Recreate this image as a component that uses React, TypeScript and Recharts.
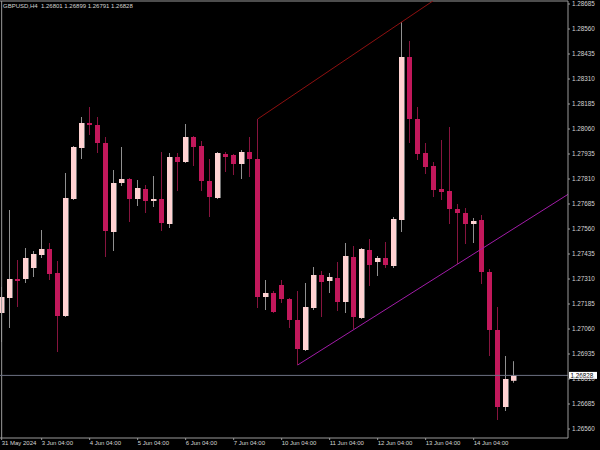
import React from 'react';
import { ComposedChart, Bar, XAxis, YAxis, ReferenceLine } from 'recharts';

// ---- DATA (GBPUSD H4, 31 May 2024 08:00 .. 14 Jun 2024 20:00) ----
const opens = [
  1.27140, 1.27215, 1.27310, 1.27310, 1.27365, 1.27430, 1.27460, 1.27340, 1.27125, 1.27710,
  1.27965, 1.28090, 1.28080, 1.27990, 1.27545, 1.27790, 1.27810, 1.27710, 1.27760, 1.27700,
  1.27710, 1.27585, 1.27920, 1.27895, 1.28020, 1.27975, 1.27800, 1.27715, 1.27935, 1.27930,
  1.27885, 1.27945, 1.27910, 1.27220, 1.27240, 1.27280, 1.27210, 1.27105, 1.26955, 1.27165,
  1.27330, 1.27300, 1.27315, 1.27195, 1.27420, 1.27115, 1.27455, 1.27395, 1.27415, 1.27375,
  1.27605, 1.28420, 1.28110, 1.27940, 1.27875, 1.27760, 1.27750, 1.27660, 1.27640, 1.27585,
  1.27605, 1.27345, 1.27055, 1.26670, 1.26801,
];
const highs = [
  1.27270, 1.27655, 1.27405, 1.27465, 1.27450, 1.27555, 1.27490, 1.27400, 1.27840, 1.27975,
  1.28120, 1.28170, 1.28120, 1.28020, 1.27855, 1.27970, 1.27815, 1.27805, 1.27780, 1.27825,
  1.27945, 1.27940, 1.27940, 1.28085, 1.28025, 1.28000, 1.27910, 1.27945, 1.27945, 1.27935,
  1.27955, 1.28020, 1.28110, 1.27305, 1.27250, 1.27305, 1.27215, 1.27250, 1.27290, 1.27370,
  1.27350, 1.27340, 1.27395, 1.27490, 1.27475, 1.27465, 1.27510, 1.27425, 1.27495, 1.27620,
  1.28595, 1.28500, 1.28170, 1.27990, 1.27895, 1.28005, 1.28070, 1.27685, 1.27665, 1.27615,
  1.27630, 1.27360, 1.27170, 1.26925, 1.26899,
];
const lows = [
  1.26995, 1.27065, 1.27170, 1.27290, 1.27320, 1.27415, 1.27305, 1.26945, 1.27120, 1.27705,
  1.27910, 1.28030, 1.27940, 1.27420, 1.27450, 1.27775, 1.27595, 1.27675, 1.27640, 1.27670,
  1.27550, 1.27565, 1.27750, 1.27890, 1.27875, 1.27750, 1.27620, 1.27710, 1.27845, 1.27830,
  1.27810, 1.27820, 1.27165, 1.27155, 1.27140, 1.27190, 1.27065, 1.26880, 1.26950, 1.27155,
  1.27120, 1.27240, 1.27150, 1.27140, 1.27060, 1.27110, 1.27275, 1.27325, 1.27365, 1.27365,
  1.27545, 1.27990, 1.27905, 1.27835, 1.27720, 1.27705, 1.27585, 1.27385, 1.27485, 1.27490,
  1.27285, 1.26925, 1.26605, 1.26650, 1.26791,
];
const closes = [
  1.27220, 1.27310, 1.27300, 1.27415, 1.27435, 1.27460, 1.27335, 1.27125, 1.27715, 1.27970,
  1.28090, 1.28080, 1.27990, 1.27550, 1.27790, 1.27810, 1.27710, 1.27765, 1.27700, 1.27710,
  1.27590, 1.27920, 1.27895, 1.28020, 1.27970, 1.27800, 1.27720, 1.27940, 1.27920, 1.27885,
  1.27945, 1.27910, 1.27220, 1.27240, 1.27145, 1.27210, 1.27105, 1.26960, 1.27170, 1.27330,
  1.27295, 1.27320, 1.27195, 1.27425, 1.27120, 1.27460, 1.27380, 1.27415, 1.27380, 1.27610,
  1.28420, 1.28110, 1.27935, 1.27870, 1.27755, 1.27745, 1.27660, 1.27640, 1.27585, 1.27600,
  1.27345, 1.27055, 1.26670, 1.26810, 1.26828,
];

const timeTickIndex = [0, 5, 11, 17, 23, 29, 35, 41, 47, 53, 59];
const timeTickLabels = [
  '31 May 2024', '3 Jun 04:00', '4 Jun 04:00', '5 Jun 04:00', '6 Jun 04:00', '7 Jun 04:00',
  '10 Jun 04:00', '11 Jun 04:00', '12 Jun 04:00', '13 Jun 04:00', '14 Jun 04:00',
];
const priceTicks = [
  1.26560, 1.26685, 1.26810, 1.26935, 1.27060, 1.27185, 1.27310, 1.27435, 1.27560,
  1.27685, 1.27810, 1.27935, 1.28060, 1.28185, 1.28310, 1.28435, 1.28560, 1.28685,
];
const symbolName = 'GBPUSD,H4';
// trend line anchors (bar index)
const upperTrendBars = [32, 50]; // through highs
const lowerTrendBars = [37, 57]; // through lows

// ---- chart config ----
const X_DOMAIN: [number, number] = [-0.20833, 70.79167];
const Y_DOMAIN: [number, number] = [1.26515, 1.287];
const FONT = '"Liberation Sans", Arial, sans-serif';
const TEXT = '#d4d4d4';
const FRAME = '#9a9a9a';
const BULL_FILL = '#ffd2d2';
const BULL_WICK = '#909090';
const BEAR_FILL = '#c2185b';
const BEAR_WICK = '#86143e';

const data = opens.map((o, i) => ({
  i,
  o,
  h: highs[i],
  l: lows[i],
  c: closes[i],
  range: [lows[i], highs[i]],
}));

function ray(idx: number[], vals: number[]) {
  const [a, b] = idx;
  const slope = (vals[b] - vals[a]) / (b - a);
  const end = X_DOMAIN[1];
  return [
    { x: a, y: vals[a] },
    { x: end, y: vals[a] + slope * (end - a) },
  ];
}
const upperSeg = ray(upperTrendBars, highs);
const lowerSeg = ray(lowerTrendBars, lows);

const Candle = (props: any) => {
  const { x, y, width, height, payload } = props;
  if (x == null || y == null || !payload) return null;
  const { o, h, l, c } = payload;
  const top = Math.min(y, y + height);
  const hgt = Math.abs(height);
  const span = h - l;
  const k = span > 0 ? hgt / span : 0;
  const py = (p: number) => top + (h - p) * k;
  const center = x + width / 2;
  const px = Math.floor(center);
  const bull = c >= o;
  const bTop = py(Math.max(o, c));
  const bBot = py(Math.min(o, c));
  const bh = Math.max(bBot - bTop, 1);
  return (
    <g>
      <line x1={px + 0.5} x2={px + 0.5} y1={top} y2={top + hgt} stroke={bull ? BULL_WICK : BEAR_WICK} strokeWidth={1} />
      <rect x={px - 2} y={bTop} width={5} height={bh} fill={bull ? BULL_FILL : BEAR_FILL} />
      {bull ? (
        <line x1={px + 3.5} x2={px + 3.5} y1={bTop} y2={bTop + bh} stroke={BULL_WICK} strokeWidth={0.8} />
      ) : null}
    </g>
  );
};

const TimeTick = (props: any) => {
  const { x, y, payload } = props;
  const idx = timeTickIndex.indexOf(payload.value);
  return (
    <text x={x} y={y} dy={3} fill={TEXT} fontSize={6} fontFamily={FONT} textAnchor="start">
      {idx >= 0 ? timeTickLabels[idx] : ''}
    </text>
  );
};

const PriceTick = (props: any) => {
  const { x, y, payload } = props;
  return (
    <text x={x} y={y} dy={2.3} fill={TEXT} fontSize={6.3} fontFamily={FONT} textAnchor="start">
      {Number(payload.value).toFixed(5)}
    </text>
  );
};

const PriceTag = (props: any) => {
  const vb = props.viewBox || {};
  const right = (vb.x || 0) + (vb.width || 0);
  const yy = vb.y || 0;
  return (
    <g>
      <rect x={right + 1} y={yy - 3.5} width={28} height={7} fill="#ffffff" />
      <text x={right + 2.5} y={yy} dy={2.3} fill="#000000" fontSize={6.3} fontFamily={FONT} textAnchor="start">
        {closes[closes.length - 1].toFixed(5)}
      </text>
    </g>
  );
};

export default function App() {
  const last = closes.length - 1;
  const header = `${symbolName}  ${opens[last].toFixed(5)} ${highs[last].toFixed(5)} ${lows[last].toFixed(5)} ${closes[last].toFixed(5)}`;
  return (
    <div style={{ position: 'fixed', left: 0, top: 0, width: 600, height: 450, background: '#000', overflow: 'hidden' }}>
      <ComposedChart width={600} height={450} data={data} margin={{ top: 1, right: 0, bottom: 0, left: 0 }}>
        <XAxis
          dataKey="i"
          type="number"
          domain={X_DOMAIN}
          allowDataOverflow
          ticks={timeTickIndex}
          height={12}
          tickSize={2}
          tickMargin={2}
          axisLine={{ stroke: FRAME }}
          tickLine={{ stroke: FRAME }}
          tick={<TimeTick />}
          interval={0}
        />
        <YAxis
          orientation="right"
          type="number"
          domain={Y_DOMAIN}
          allowDataOverflow
          ticks={priceTicks}
          width={32}
          tickSize={2}
          tickMargin={2}
          axisLine={{ stroke: FRAME }}
          tickLine={{ stroke: FRAME }}
          tick={<PriceTick />}
          interval={0}
        />
        <ReferenceLine y={Y_DOMAIN[1]} stroke={FRAME} strokeWidth={1} />
        <ReferenceLine x={0} stroke={FRAME} strokeWidth={1} />
        <ReferenceLine y={closes[last]} stroke="#6c7082" strokeWidth={1} label={<PriceTag />} />
        <Bar dataKey="range" barSize={5} isAnimationActive={false} shape={(p: any) => <Candle {...p} />} />
        <ReferenceLine segment={upperSeg} stroke="#8e1010" strokeWidth={1} ifOverflow="hidden" />
        <ReferenceLine segment={lowerSeg} stroke="#a21ca8" strokeWidth={1} ifOverflow="hidden" />
      </ComposedChart>
      <div
        style={{
          position: 'absolute',
          left: 3,
          top: 2,
          fontFamily: FONT,
          fontSize: 6,
          color: TEXT,
          whiteSpace: 'pre',
          lineHeight: '8px',
        }}
      >
        {header}
      </div>
    </div>
  );
}
